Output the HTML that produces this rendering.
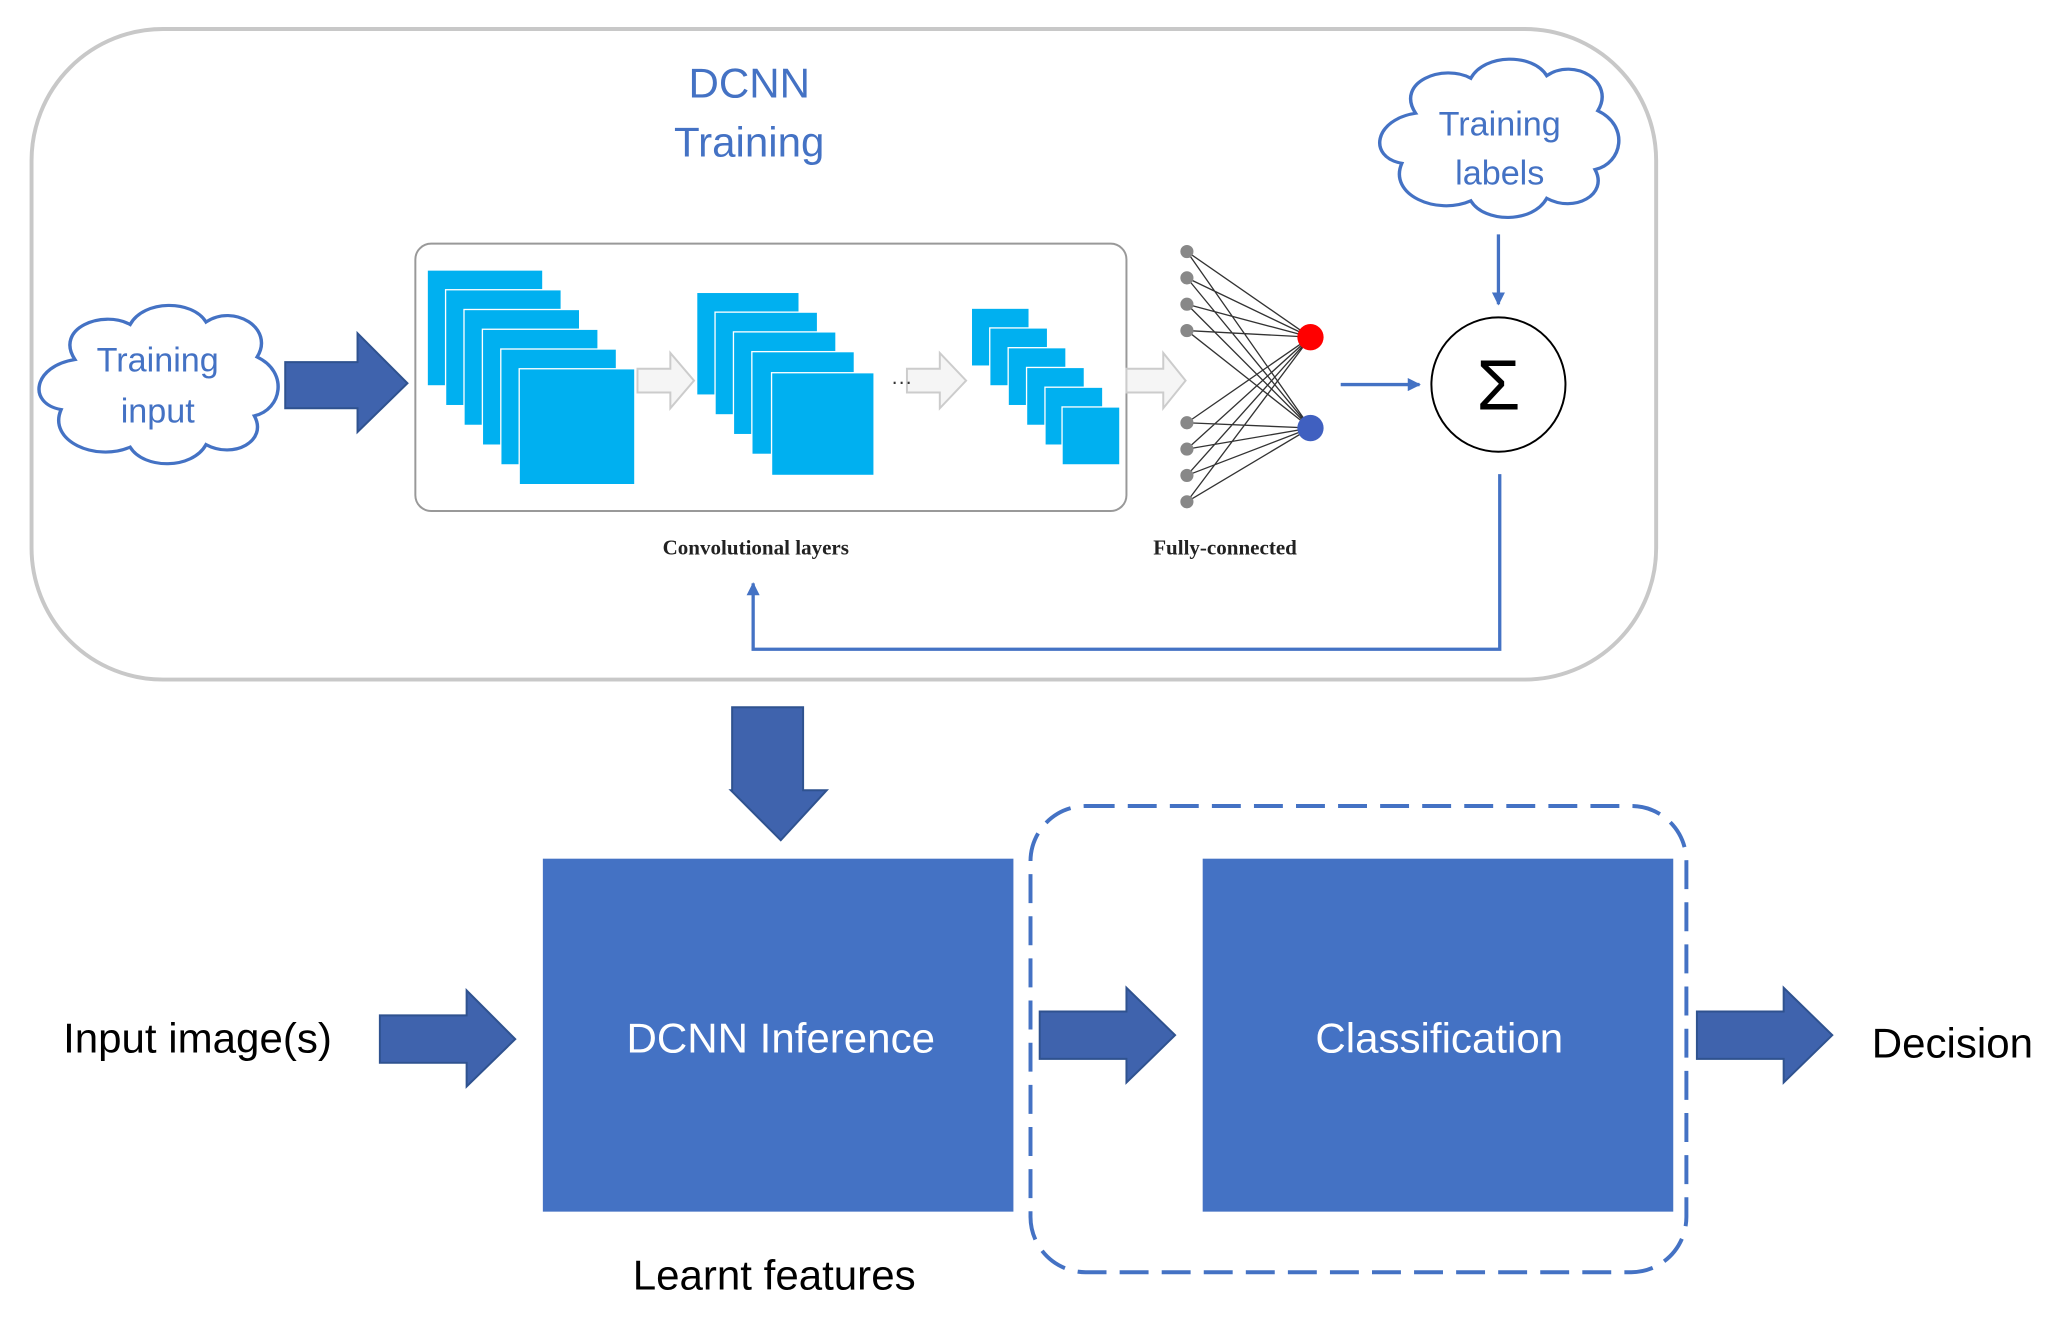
<!DOCTYPE html>
<html><head><meta charset="utf-8"><style>
html,body{margin:0;padding:0;background:#fff;}
svg{display:block;}
</style></head><body>
<svg width="2061" height="1317" viewBox="0 0 1568 1000" preserveAspectRatio="none" xmlns="http://www.w3.org/2000/svg" font-family="Liberation Sans, sans-serif">
<defs>
<marker id="ah" markerWidth="10" markerHeight="10" refX="9" refY="5" orient="auto" markerUnits="userSpaceOnUse">
<path d="M0,0 L10,5 L0,10 z" fill="#4472c4"/></marker>
<g id="cloud">
<path d="M-60,-20 C-75,-45 -40,-60 -20,-48 C-10,-68 25,-68 35,-50 C55,-65 85,-45 72,-22 C95,-10 90,20 70,25 C80,45 55,60 35,48 C25,68 -10,68 -20,50 C-45,62 -80,45 -70,20 C-95,15 -90,-15 -60,-20 z" fill="#fff" stroke="#4472c4" stroke-width="2.5"/>
</g>
</defs>
<rect x="24" y="22" width="1236" height="494" rx="100" fill="#fff" stroke="#c8c8c8" stroke-width="3"/>
<text x="570" y="74" font-size="32" fill="#4472c4" text-anchor="middle">DCNN</text>
<text x="570" y="119" font-size="32" fill="#4472c4" text-anchor="middle">Training</text>

<use href="#cloud" transform="translate(1140,105) scale(1.05,0.95)"/>
<text x="1141" y="103" font-size="26" fill="#4472c4" text-anchor="middle">Training</text>
<text x="1141" y="140" font-size="26" fill="#4472c4" text-anchor="middle">labels</text>

<use href="#cloud" transform="translate(120,292) scale(1.05,0.95)"/>
<text x="120" y="282" font-size="26" fill="#4472c4" text-anchor="middle">Training</text>
<text x="120" y="321" font-size="26" fill="#4472c4" text-anchor="middle">input</text>

<path d="M217,275 L272,275 L272,253 L310,291 L272,328 L272,310 L217,310 z" fill="#3f63ad" stroke="#2f528f" stroke-width="1.5"/>

<rect x="316" y="185" width="541" height="203" rx="12" fill="#fff" stroke="#999" stroke-width="1.5"/>
<g fill="#00b0f0" stroke="#fff" stroke-width="1">
<rect x="325" y="205" width="88" height="88"/><rect x="339" y="220" width="88" height="88"/><rect x="353" y="235" width="88" height="88"/><rect x="367" y="250" width="88" height="88"/><rect x="381" y="265" width="88" height="88"/><rect x="395" y="280" width="88" height="88"/>
<rect x="530" y="222" width="78" height="78"/><rect x="544" y="237" width="78" height="78"/><rect x="558" y="252" width="78" height="78"/><rect x="572" y="267" width="78" height="78"/><rect x="587" y="283" width="78" height="78"/>
<rect x="739" y="234" width="44" height="44"/><rect x="753" y="249" width="44" height="44"/><rect x="767" y="264" width="44" height="44"/><rect x="781" y="279" width="44" height="44"/><rect x="795" y="294" width="44" height="44"/><rect x="808" y="309" width="44" height="44"/>
</g>
<g fill="#f5f5f5" stroke="#ccc" stroke-width="1.5">
<path d="M485,280 L510,280 L510,268 L528,289 L510,310 L510,298 L485,298 z"/>
<path d="M690,280 L715,280 L715,268 L735,289 L715,310 L715,298 L690,298 z"/>
<path d="M857,280 L885,280 L885,268 L902,289 L885,310 L885,298 L857,298 z"/>
</g>
<text x="678" y="295" font-size="16" fill="#333">···</text>
<text x="575" y="421" font-size="16" font-weight="bold" font-family="Liberation Serif, serif" text-anchor="middle" fill="#222">Convolutional layers</text>
<text x="932" y="421" font-size="16" font-weight="bold" font-family="Liberation Serif, serif" text-anchor="middle" fill="#222">Fully-connected</text>

<g stroke="#333" stroke-width="1">
<path d="M903,191 L997,256 M903,211 L997,256 M903,231 L997,256 M903,251 L997,256 M903,321 L997,256 M903,341 L997,256 M903,361 L997,256 M903,381 L997,256 M903,191 L997,325 M903,211 L997,325 M903,231 L997,325 M903,251 L997,325 M903,321 L997,325 M903,341 L997,325 M903,361 L997,325 M903,381 L997,325"/>
</g>
<g fill="#888"><circle cx="903" cy="191" r="5"/><circle cx="903" cy="211" r="5"/><circle cx="903" cy="231" r="5"/><circle cx="903" cy="251" r="5"/><circle cx="903" cy="321" r="5"/><circle cx="903" cy="341" r="5"/><circle cx="903" cy="361" r="5"/><circle cx="903" cy="381" r="5"/></g>
<circle cx="997" cy="256" r="10" fill="#f00"/>
<circle cx="997" cy="325" r="10" fill="#4060c0"/>

<line x1="1020" y1="292" x2="1080" y2="292" stroke="#4472c4" stroke-width="2.5" marker-end="url(#ah)"/>
<circle cx="1140" cy="292" r="51" fill="#fff" stroke="#000" stroke-width="1.5"/>
<text x="1140" y="311" font-size="54" text-anchor="middle" fill="#000">Σ</text>
<line x1="1140" y1="178" x2="1140" y2="231" stroke="#4472c4" stroke-width="2.5" marker-end="url(#ah)"/>
<polyline points="1141,360 1141,493 573,493 573,443" fill="none" stroke="#4472c4" stroke-width="2.5" marker-end="url(#ah)"/>

<path d="M557,537 L611,537 L611,600 L629,600 L594,638 L556,600 L557,600 z" fill="#3f63ad" stroke="#2f528f" stroke-width="1.5"/>

<rect x="413" y="652" width="358" height="268" fill="#4472c4"/>
<text x="594" y="799" font-size="32" fill="#fff" text-anchor="middle">DCNN Inference</text>
<rect x="915" y="652" width="358" height="268" fill="#4472c4"/>
<text x="1095" y="799" font-size="32" fill="#fff" text-anchor="middle">Classification</text>
<rect x="784" y="612" width="499" height="354" rx="42" fill="none" stroke="#4472c4" stroke-width="3" stroke-dasharray="22,10"/>

<g fill="#3f63ad" stroke="#2f528f" stroke-width="1.5">
<path d="M289,771 L355,771 L355,752 L392,789 L355,825 L355,807 L289,807 z"/>
<path d="M791,768 L857,768 L857,750 L894,786 L857,822 L857,804 L791,804 z"/>
<path d="M1291,768 L1357,768 L1357,750 L1394,786 L1357,822 L1357,804 L1291,804 z"/>
</g>
<text x="48" y="799" font-size="32" fill="#000">Input image(s)</text>
<text x="1424" y="803" font-size="32" fill="#000">Decision</text>
<text x="589" y="979" font-size="32" fill="#000" text-anchor="middle">Learnt features</text>
</svg>
</body></html>
